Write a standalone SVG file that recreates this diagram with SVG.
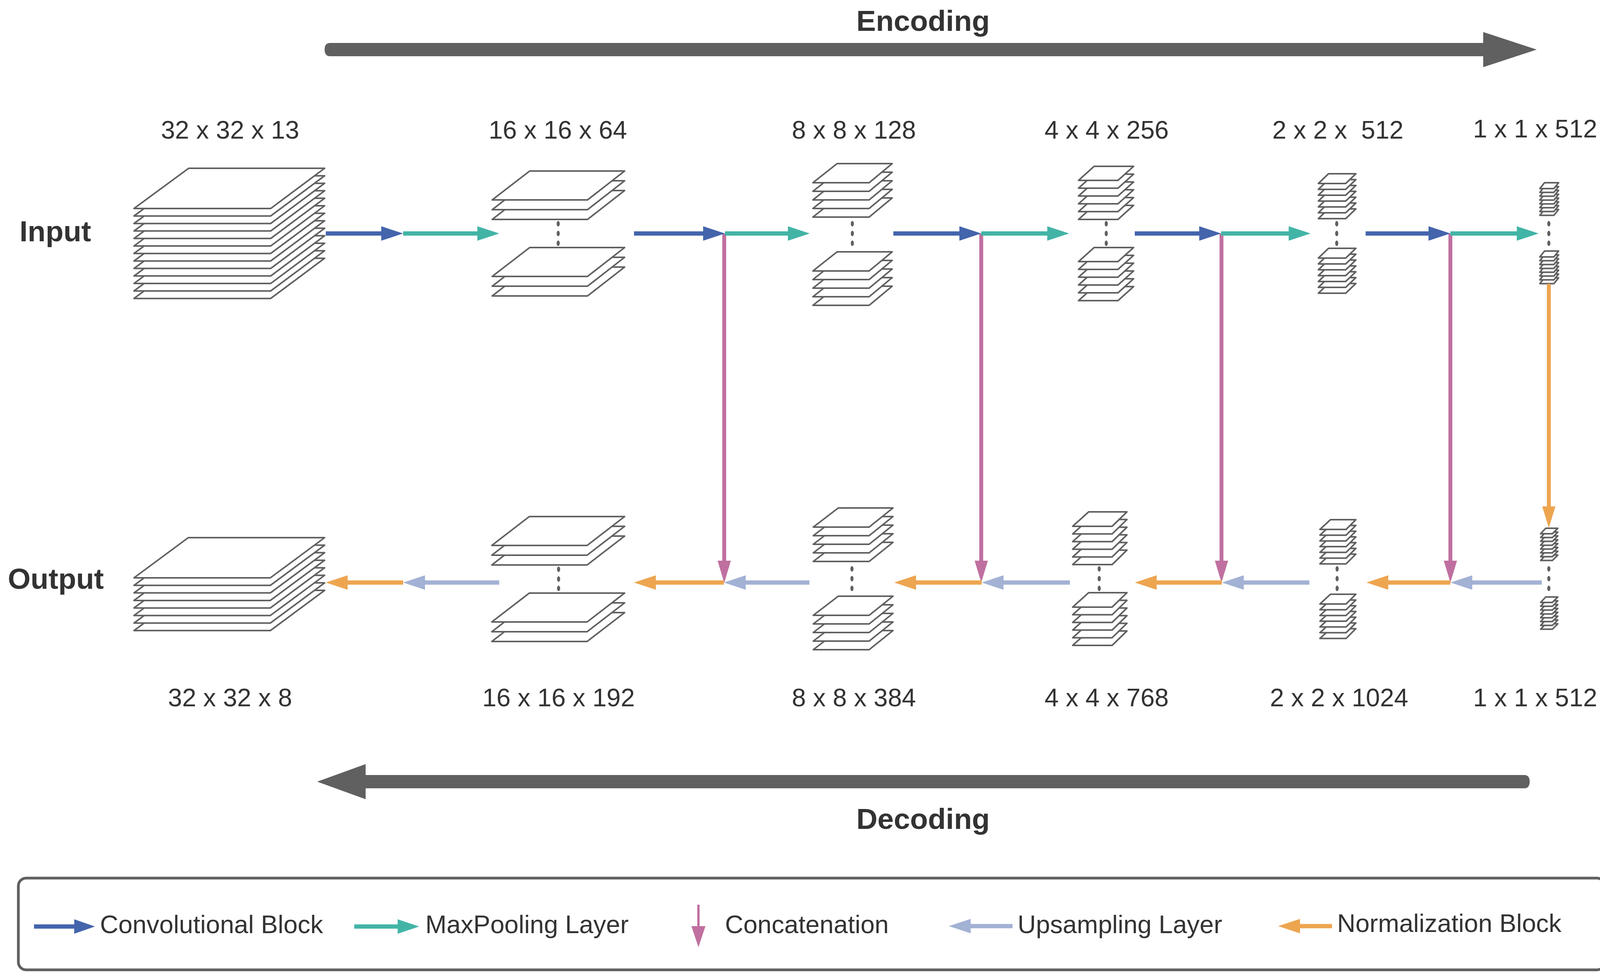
<svg xmlns="http://www.w3.org/2000/svg" xmlns:xlink="http://www.w3.org/1999/xlink" width="4135" height="2510" viewBox="0 0 4135 2510">
<style>
.pl{fill:#fff;stroke:#606060;stroke-width:4;stroke-linejoin:round}
.dot{fill:#606060}
.t{font-family:"Liberation Sans",Arial,sans-serif;font-size:65px;fill:#333}
.b{font-family:"Liberation Sans",Arial,sans-serif;font-size:75px;font-weight:bold;fill:#333}
.c{text-anchor:middle}
.blue{fill:#4464AC}.teal{fill:#42B4A6}.pink{fill:#C070A0}.lav{fill:#A3B1D4}.org{fill:#EDA550}.gr{fill:#606060}
</style>
<defs>
<polygon id="p1" class="pl" points="483,431 831,431 693,534 343,534"/>
<polygon id="p2" class="pl" points="1356,438 1599,438 1504,512 1260,512"/>
<polygon id="p3" class="pl" points="2143,419 2284,419 2225,468 2081,468"/>
<polygon id="p4" class="pl" points="2801,426 2902,426 2862,462 2761,462"/>
<polygon id="p5" class="pl" points="3401,445 3471,445 3445,470 3375,470"/>
<polygon id="p6" class="pl" points="3954,468 3990,468 3978,483 3942,483"/>
<polygon id="q1" class="pl" points="482,1377 831,1377 692,1480 343,1480"/>
<polygon id="q2" class="pl" points="1355,1323 1599,1323 1503,1397 1259,1397"/>
<polygon id="q3" class="pl" points="2146,1301 2286,1301 2225,1350 2082,1350"/>
<polygon id="q4" class="pl" points="2787,1311 2885,1311 2847,1348 2746,1348"/>
<polygon id="q5" class="pl" points="3406,1331 3471,1331 3446,1356 3379,1356"/>
<polygon id="q6" class="pl" points="3957,1353 3988,1353 3974,1367 3944,1367"/>
</defs>

<g id="titles">
<text class="b c" x="2363" y="79">Encoding</text>
<text class="b c" x="2363" y="2123">Decoding</text>
<text class="b" x="50" y="618">Input</text>
<text class="b" x="20" y="1508">Output</text>
<path class="gr" d="M845,110 L3797,110 L3797,82 L3934,127 L3797,172 L3797,144 L845,144 Q831,144 831,127 Q831,110 845,110 Z"/>
<path class="gr" d="M3902,1985 L936,1985 L936,1957 L812,2002 L936,2047 L936,2019 L3902,2019 Q3916,2019 3916,2002 Q3916,1985 3902,1985 Z"/>
</g>

<g id="labels">
<text class="t c" x="589" y="355">32 x 32 x 13</text>
<text class="t c" x="1428" y="355">16 x 16 x 64</text>
<text class="t c" x="2186" y="355">8 x 8 x 128</text>
<text class="t c" x="2833" y="355">4 x 4 x 256</text>
<text class="t c" x="3425" y="355" xml:space="preserve">2 x 2 x  512</text>
<text class="t c" x="3930" y="352">1 x 1 x 512</text>
<text class="t c" x="589" y="1809">32 x 32 x 8</text>
<text class="t c" x="1430" y="1809">16 x 16 x 192</text>
<text class="t c" x="2186" y="1809">8 x 8 x 384</text>
<text class="t c" x="2833" y="1809">4 x 4 x 768</text>
<text class="t c" x="3428" y="1809">2 x 2 x 1024</text>
<text class="t c" x="3930" y="1809">1 x 1 x 512</text>
</g>

<g id="enc1">
<use href="#p1" y="230.4"/><use href="#p1" y="211.2"/><use href="#p1" y="192"/><use href="#p1" y="172.8"/><use href="#p1" y="153.6"/><use href="#p1" y="134.4"/><use href="#p1" y="115.2"/><use href="#p1" y="96"/><use href="#p1" y="76.8"/><use href="#p1" y="57.6"/><use href="#p1" y="38.4"/><use href="#p1" y="19.2"/><use href="#p1"/>
</g>
<g id="enc2">
<use href="#p2" y="50"/><use href="#p2" y="25"/><use href="#p2"/>
<ellipse class="dot" cx="1429" cy="573" rx="4" ry="7"/><ellipse class="dot" cx="1429" cy="598" rx="4" ry="7"/><ellipse class="dot" cx="1429" cy="623" rx="4" ry="7"/>
<use href="#p2" y="246"/><use href="#p2" y="221"/><use href="#p2" y="196"/>
</g>
<g id="enc3">
<use href="#p3" y="88"/><use href="#p3" y="66"/><use href="#p3" y="44"/><use href="#p3" y="22"/><use href="#p3"/>
<ellipse class="dot" cx="2182" cy="573" rx="4" ry="7"/><ellipse class="dot" cx="2182" cy="598" rx="4" ry="7"/><ellipse class="dot" cx="2182" cy="623" rx="4" ry="7"/>
<use href="#p3" y="314"/><use href="#p3" y="292"/><use href="#p3" y="270"/><use href="#p3" y="248"/><use href="#p3" y="226"/>
</g>
<g id="enc4">
<use href="#p4" y="100"/><use href="#p4" y="80"/><use href="#p4" y="60"/><use href="#p4" y="40"/><use href="#p4" y="20"/><use href="#p4"/>
<ellipse class="dot" cx="2832" cy="573" rx="4" ry="7"/><ellipse class="dot" cx="2832" cy="598" rx="4" ry="7"/><ellipse class="dot" cx="2832" cy="623" rx="4" ry="7"/>
<use href="#p4" y="308"/><use href="#p4" y="288"/><use href="#p4" y="268"/><use href="#p4" y="248"/><use href="#p4" y="228"/><use href="#p4" y="208"/>
</g>
<g id="enc5">
<use href="#p5" y="90"/><use href="#p5" y="75"/><use href="#p5" y="60"/><use href="#p5" y="45"/><use href="#p5" y="30"/><use href="#p5" y="15"/><use href="#p5"/>
<ellipse class="dot" cx="3422" cy="573" rx="4" ry="7"/><ellipse class="dot" cx="3422" cy="598" rx="4" ry="7"/><ellipse class="dot" cx="3422" cy="623" rx="4" ry="7"/>
<use href="#p5" y="281"/><use href="#p5" y="266"/><use href="#p5" y="251"/><use href="#p5" y="236"/><use href="#p5" y="221"/><use href="#p5" y="206"/><use href="#p5" y="191"/>
</g>
<g id="enc6">
<use href="#p6" y="68.6"/><use href="#p6" y="58.8"/><use href="#p6" y="49"/><use href="#p6" y="39.2"/><use href="#p6" y="29.4"/><use href="#p6" y="19.6"/><use href="#p6" y="9.8"/><use href="#p6"/>
<ellipse class="dot" cx="3965" cy="573" rx="4" ry="7"/><ellipse class="dot" cx="3965" cy="598" rx="4" ry="7"/><ellipse class="dot" cx="3965" cy="623" rx="4" ry="7"/>
<use href="#p6" y="243.6"/><use href="#p6" y="233.8"/><use href="#p6" y="224"/><use href="#p6" y="214.2"/><use href="#p6" y="204.4"/><use href="#p6" y="194.6"/><use href="#p6" y="184.8"/><use href="#p6" y="175"/>
</g>

<g id="dec1">
<use href="#q1" y="135.1"/><use href="#q1" y="115.8"/><use href="#q1" y="96.5"/><use href="#q1" y="77.2"/><use href="#q1" y="57.9"/><use href="#q1" y="38.6"/><use href="#q1" y="19.3"/><use href="#q1"/>
</g>
<g id="dec2">
<use href="#q2" y="50"/><use href="#q2" y="25"/><use href="#q2"/>
<ellipse class="dot" cx="1430" cy="1458" rx="4" ry="7"/><ellipse class="dot" cx="1430" cy="1483" rx="4" ry="7"/><ellipse class="dot" cx="1430" cy="1507" rx="4" ry="7"/>
<use href="#q2" y="246"/><use href="#q2" y="221"/><use href="#q2" y="196"/>
</g>
<g id="dec3">
<use href="#q3" y="88"/><use href="#q3" y="66"/><use href="#q3" y="44"/><use href="#q3" y="22"/><use href="#q3"/>
<ellipse class="dot" cx="2181" cy="1457" rx="4" ry="7"/><ellipse class="dot" cx="2181" cy="1482" rx="4" ry="7"/><ellipse class="dot" cx="2181" cy="1507" rx="4" ry="7"/>
<use href="#q3" y="314"/><use href="#q3" y="292"/><use href="#q3" y="270"/><use href="#q3" y="248"/><use href="#q3" y="226"/>
</g>
<g id="dec4">
<use href="#q4" y="98"/><use href="#q4" y="78.4"/><use href="#q4" y="58.8"/><use href="#q4" y="39.2"/><use href="#q4" y="19.6"/><use href="#q4"/>
<ellipse class="dot" cx="2814" cy="1457" rx="4" ry="7"/><ellipse class="dot" cx="2814" cy="1482" rx="4" ry="7"/><ellipse class="dot" cx="2814" cy="1507" rx="4" ry="7"/>
<use href="#q4" y="305"/><use href="#q4" y="285.4"/><use href="#q4" y="265.8"/><use href="#q4" y="246.2"/><use href="#q4" y="226.6"/><use href="#q4" y="207"/>
</g>
<g id="dec5">
<use href="#q5" y="88.2"/><use href="#q5" y="73.5"/><use href="#q5" y="58.8"/><use href="#q5" y="44.1"/><use href="#q5" y="29.4"/><use href="#q5" y="14.7"/><use href="#q5"/>
<ellipse class="dot" cx="3423" cy="1457" rx="4" ry="7"/><ellipse class="dot" cx="3423" cy="1482" rx="4" ry="7"/><ellipse class="dot" cx="3423" cy="1507" rx="4" ry="7"/>
<use href="#q5" y="279.2"/><use href="#q5" y="264.5"/><use href="#q5" y="249.8"/><use href="#q5" y="235.1"/><use href="#q5" y="220.4"/><use href="#q5" y="205.7"/><use href="#q5" y="191"/>
</g>
<g id="dec6">
<use href="#q6" y="68.6"/><use href="#q6" y="58.8"/><use href="#q6" y="49"/><use href="#q6" y="39.2"/><use href="#q6" y="29.4"/><use href="#q6" y="19.6"/><use href="#q6" y="9.8"/><use href="#q6"/>
<ellipse class="dot" cx="3965" cy="1457" rx="4" ry="7"/><ellipse class="dot" cx="3965" cy="1482" rx="4" ry="7"/><ellipse class="dot" cx="3965" cy="1507" rx="4" ry="7"/>
<use href="#q6" y="244.6"/><use href="#q6" y="234.8"/><use href="#q6" y="225"/><use href="#q6" y="215.2"/><use href="#q6" y="205.4"/><use href="#q6" y="195.6"/><use href="#q6" y="185.8"/><use href="#q6" y="176"/>
</g>

<g id="connectors">
<rect class="pink" x="1849" y="598" width="10" height="840"/><polygon class="pink" points="1837,1436 1871,1436 1854,1493"/>
<rect class="pink" x="2507" y="598" width="10" height="840"/><polygon class="pink" points="2495,1436 2529,1436 2512,1492"/>
<rect class="pink" x="3122" y="598" width="10" height="840"/><polygon class="pink" points="3110,1436 3144,1436 3127,1492"/>
<rect class="pink" x="3708" y="598" width="10" height="840"/><polygon class="pink" points="3696,1436 3730,1436 3713,1492"/>
<rect class="org" x="3960" y="727" width="10" height="572"/><polygon class="org" points="3948,1297 3982,1297 3965,1352"/>
<rect class="blue" x="834" y="592.5" width="144" height="11"/><polygon class="blue" points="976,579.5 1032,598 976,616.5"/>
<rect class="teal" x="1032" y="592.5" width="192" height="11"/><polygon class="teal" points="1222,579.5 1278,598 1222,616.5"/>
<rect class="blue" x="1623" y="592.5" width="179" height="11"/><polygon class="blue" points="1800,579.5 1856,598 1800,616.5"/>
<rect class="teal" x="1856" y="592.5" width="163" height="11"/><polygon class="teal" points="2017,579.5 2073,598 2017,616.5"/>
<rect class="blue" x="2287" y="592.5" width="171" height="11"/><polygon class="blue" points="2456,579.5 2512,598 2456,616.5"/>
<rect class="teal" x="2512" y="592.5" width="171" height="11"/><polygon class="teal" points="2681,579.5 2737,598 2681,616.5"/>
<rect class="blue" x="2905" y="592.5" width="167" height="11"/><polygon class="blue" points="3070,579.5 3126,598 3070,616.5"/>
<rect class="teal" x="3126" y="592.5" width="175" height="11"/><polygon class="teal" points="3299,579.5 3355,598 3299,616.5"/>
<rect class="blue" x="3496" y="592.5" width="163" height="11"/><polygon class="blue" points="3657,579.5 3713,598 3657,616.5"/>
<rect class="teal" x="3713" y="592.5" width="172" height="11"/><polygon class="teal" points="3883,579.5 3939,598 3883,616.5"/>
<rect class="org" x="888" y="1486.5" width="144" height="11"/><polygon class="org" points="890,1473.5 834,1492 890,1510.5"/>
<rect class="lav" x="1086" y="1486.5" width="192" height="11"/><polygon class="lav" points="1088,1473.5 1032,1492 1088,1510.5"/>
<rect class="org" x="1677" y="1486.5" width="176" height="11"/><polygon class="org" points="1679,1473.5 1623,1492 1679,1510.5"/>
<rect class="lav" x="1907" y="1486.5" width="165" height="11"/><polygon class="lav" points="1909,1473.5 1853,1492 1909,1510.5"/>
<rect class="org" x="2343" y="1486.5" width="170" height="11"/><polygon class="org" points="2345,1473.5 2289,1492 2345,1510.5"/>
<rect class="lav" x="2567" y="1486.5" width="172" height="11"/><polygon class="lav" points="2569,1473.5 2513,1492 2569,1510.5"/>
<rect class="org" x="2959" y="1486.5" width="169" height="11"/><polygon class="org" points="2961,1473.5 2905,1492 2961,1510.5"/>
<rect class="lav" x="3182" y="1486.5" width="170" height="11"/><polygon class="lav" points="3184,1473.5 3128,1492 3184,1510.5"/>
<rect class="org" x="3552" y="1486.5" width="161" height="11"/><polygon class="org" points="3554,1473.5 3498,1492 3554,1510.5"/>
<rect class="lav" x="3767" y="1486.5" width="180" height="11"/><polygon class="lav" points="3769,1473.5 3713,1492 3769,1510.5"/>
</g>

<g id="legend">
<rect x="47" y="2249" width="4061" height="235" rx="20" fill="none" stroke="#606060" stroke-width="7"/>
<rect class="blue" x="87" y="2367.5" width="105" height="11"/><polygon class="blue" points="190,2354.5 243,2373 190,2391.5"/>
<text class="t" x="256" y="2390">Convolutional Block</text>
<rect class="teal" x="907" y="2367.5" width="113" height="11"/><polygon class="teal" points="1018,2354.5 1073,2373 1018,2391.5"/>
<text class="t" x="1089" y="2390">MaxPooling Layer</text>
<rect class="pink" x="1785" y="2317" width="6" height="57"/><polygon class="pink" points="1770,2372 1806,2372 1788,2426"/>
<text class="t" x="1856" y="2390">Concatenation</text>
<rect class="lav" x="2483" y="2366.5" width="109" height="11"/><polygon class="lav" points="2485,2353.5 2429,2372 2485,2390.5"/>
<text class="t" x="2605" y="2390">Upsampling Layer</text>
<rect class="org" x="3326" y="2366.5" width="84" height="11"/><polygon class="org" points="3328,2353.5 3272,2372 3328,2390.5"/>
<text class="t" x="3423" y="2387">Normalization Block</text>
</g>
</svg>
